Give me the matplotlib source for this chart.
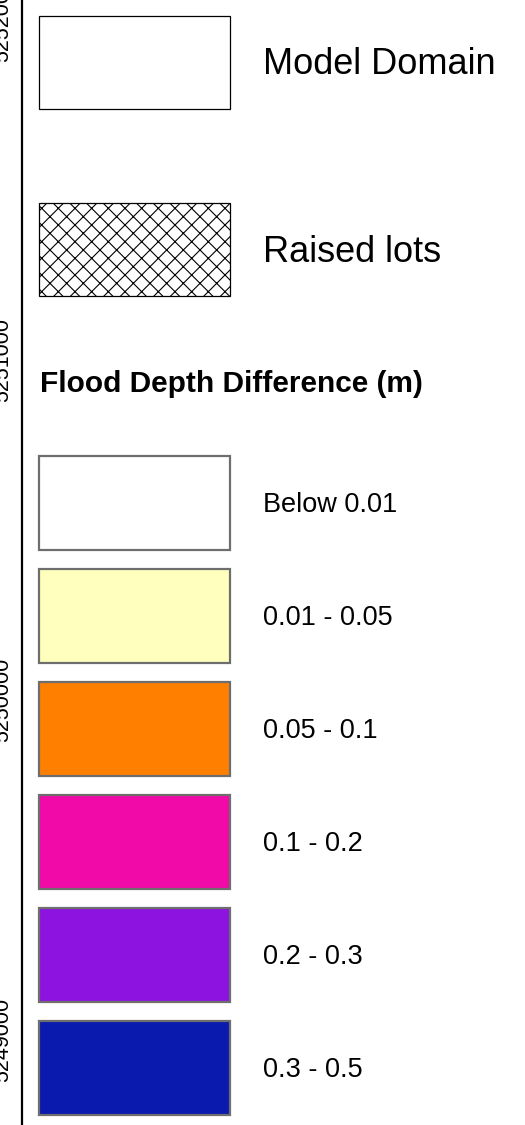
import matplotlib
matplotlib.use('Agg')
import matplotlib.pyplot as plt
from matplotlib.patches import Rectangle

plt.rcParams['font.family'] = ['Liberation Sans', 'DejaVu Sans']
plt.rcParams['hatch.linewidth'] = 0.8

# northing tick values on the map frame (only the edge is visible)
northing_ticks = [5249000, 5250000, 5251000, 5252000]
northing_labels = ['5249000', '5250000', '5251000', '5252000']

# legend entries
layer_labels = ['Model Domain', 'Raised lots']
layer_hatches = [None, 'xx']
legend_title = 'Flood Depth Difference (m)'
depth_labels = ['Below 0.01', '0.01 - 0.05', '0.05 - 0.1', '0.1 - 0.2', '0.2 - 0.3', '0.3 - 0.5']
depth_colors = ['#FFFFFF', '#FFFFBE', '#FF7F00', '#F20AA8', '#8D14E0', '#0A1AAE']

W, H = 525, 1125
fig = plt.figure(figsize=(W / 100, H / 100), dpi=100)

# map frame, mostly hidden behind the legend panel
ax_map = fig.add_axes([22 / W, 0, 1, 1])
ax_map.set_ylim(5248750, 5252059)
ax_map.set_xlim(0, 1)
ax_map.set_yticks(northing_ticks)
ax_map.set_yticklabels(northing_labels, rotation=90, va='center', fontsize=15.5)
ax_map.tick_params(axis='y', length=0, pad=6)
ax_map.set_xticks([])
for s in ['top', 'right', 'bottom']:
    ax_map.spines[s].set_visible(False)
ax_map.spines['left'].set_linewidth(1.6)

# legend panel in pixel coordinates
ax = fig.add_axes([0, 0, 1, 1])
ax.set_xlim(0, W)
ax.set_ylim(H, 0)
ax.axis('off')
ax.patch.set_alpha(0)

box_x, box_w = 39, 191
text_x = 263

layer_tops = [16, 203]
for top, lab, h in zip(layer_tops, layer_labels, layer_hatches):
    ax.add_patch(Rectangle((box_x, top), box_w, 93, facecolor='white',
                           edgecolor='black', linewidth=0.9, hatch=h))
    ax.text(text_x, top + 49, lab, fontsize=26, va='center', ha='left')

ax.text(40, 384, legend_title, fontsize=21.5, fontweight='bold', va='center', ha='left')

for i, (lab, col) in enumerate(zip(depth_labels, depth_colors)):
    top = 456 + i * 113
    ax.add_patch(Rectangle((box_x, top), box_w, 94, facecolor=col,
                           edgecolor='#6E6E6E', linewidth=1.6))
    ax.text(text_x, top + 49, lab, fontsize=19.5, va='center', ha='left')

fig.savefig('out.png', dpi=100)
